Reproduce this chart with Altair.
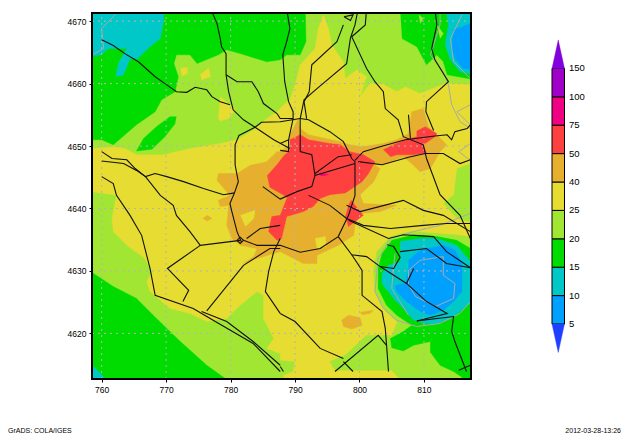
import altair as alt
import pandas as pd

# ---------- contour-level colours ----------
C_LT5 = "#2040ff"; C_5 = "#00a0ff"; C_10 = "#00c8c8"; C_15 = "#00dc00"; C_20 = "#a0e632"
C_25 = "#e6dc32"; C_40 = "#e6af2d"; C_50 = "#ff4040"; C_75 = "#f00082"; C_100 = "#a000c8"; C_150 = "#8200dc"

# ---------- map extent and ticks ----------
X_DOM = [758.5, 817.3]
Y_DOM = [4612.7, 4671.3]
X_TICKS = [760, 770, 780, 790, 800, 810]
Y_TICKS = [4620, 4630, 4640, 4650, 4660, 4670]

# ---------- filled contours (painter order) ----------
base = [(758, 4612), (758, 4672), (818, 4672), (818, 4612)]
green_nw = [(758, 4672), (791.6, 4672), (791.7, 4666.7), (790.8, 4664.6), (788.7, 4664.6), (787.7, 4663.8), (785.6, 4663.5), (781.5, 4664.8), (779.4, 4665.4), (778.1, 4664.6), (774.8, 4663.2), (773.7, 4664.6), (771.6, 4664.6), (771.2, 4663.2), (771.9, 4661.1), (771.4, 4658.7), (769.3, 4657.4), (768.3, 4655.5), (765.4, 4653.4), (761.8, 4650.2), (760, 4651), (758, 4651)]
green_patch = [(771.6, 4654.7), (770.6, 4654.7), (768.5, 4653.1), (766.5, 4651.2), (765.4, 4649.2), (767.8, 4649.5), (769.8, 4651.5), (771.4, 4653.6)]
cyan_nw = [(758, 4672), (769.6, 4672), (769.6, 4669.9), (769.1, 4667.2), (767.5, 4665.9), (765.4, 4663.8), (764.4, 4664), (763.4, 4661.4), (762.2, 4661.1), (762.6, 4663.2), (763.9, 4665.6), (761, 4665.6), (760, 4664.6), (758, 4664.3)]
green_ne = [(806.3, 4672), (818, 4672), (818, 4660.6), (813.6, 4661.4), (813, 4663.5), (812, 4664.6), (810.4, 4663), (808.9, 4665.9), (806.6, 4667.2)]
cyan_ne = [(813.3, 4672), (818, 4672), (818, 4661.4), (815.6, 4661.9), (814.1, 4663.8), (813.3, 4666.2), (813.8, 4669.4)]
blue_ne = [(818, 4669.9), (814.6, 4668.6), (814.3, 4665.6), (814.8, 4664), (816.1, 4662.4), (818, 4662.2)]
lg_a = [(809.2, 4671), (809.9, 4670.4), (809.4, 4669.6)]
lg_b = [(812, 4669.4), (813, 4668), (812.5, 4667.2)]
green_sw = [(758, 4630.1), (761.8, 4627.5), (765.4, 4625.6), (768.5, 4622.4), (772.2, 4618.7), (776.3, 4614.9), (779.4, 4612.6), (779.4, 4612), (758, 4612)]
cyan_sw = [(758, 4615.5), (758, 4612), (761.3, 4612)]
yellow = [(758, 4642.7), (758, 4649.5), (761.8, 4649.9), (763.6, 4649.6), (765.4, 4648.6), (769.6, 4648.6), (773.7, 4649.6), (778.4, 4650.4), (781, 4651), (783.6, 4652.6), (785.6, 4654.4), (787.2, 4655.5), (788.2, 4656.6), (789.2, 4657.4), (790, 4659.8), (790.8, 4663), (793.1, 4665.6), (793.6, 4668.8), (794.4, 4671), (795.2, 4668.8), (795.7, 4666.2), (797.5, 4663.5), (797.8, 4660.8), (799.6, 4662.2), (801.1, 4661.1), (800.1, 4657.9), (801.6, 4660), (803.5, 4660), (805.8, 4658.7), (807.1, 4659.5), (809.4, 4658.4), (812, 4659.5), (813.5, 4660), (818, 4659.8), (818, 4647.5), (815.1, 4646.4), (814.6, 4642.2), (813, 4640.8), (815.1, 4638.4), (818, 4637.6), (818, 4634.1), (808.4, 4628.8), (804.8, 4619.2), (805, 4614.1), (806.4, 4612.5), (788.3, 4612.5), (788.2, 4613.3), (789.7, 4613.9), (790, 4615.5), (787.7, 4615.7), (787.7, 4616.8), (785.6, 4617.6), (786.7, 4619.2), (785.1, 4622.4), (785.1, 4626.1), (784.1, 4626.7), (781.5, 4624.5), (779.4, 4622.4), (776.3, 4621.9), (773.7, 4623.2), (770.6, 4624), (767.5, 4626.7), (767, 4628.3), (767.8, 4629.9), (766.7, 4632), (763.9, 4634.1), (761.8, 4636.3), (761.6, 4638.4), (762.3, 4642.1)]
y_a = [(772.2, 4662.4), (773.3, 4662.6), (773.3, 4661.6), (772.5, 4661.2)]
y_b = [(775.3, 4661.4), (776.6, 4662.5), (776.9, 4661.1), (775.5, 4660.6)]
y_c = [(778.1, 4654.4), (778.4, 4657.9), (780.7, 4655.8), (779.7, 4654.4), (778.4, 4654)]
lg_south = [(802.9, 4619.7), (801.1, 4619.7), (797.8, 4616.5), (795.4, 4615.5), (796.2, 4614.1), (800.6, 4614.1), (805, 4614.1), (804.8, 4619.7)]
orange = [(790.5, 4654.4), (790.8, 4652.8), (792.1, 4651.8), (797, 4650.7), (798.5, 4650.2), (800.4, 4649.9), (803.7, 4650.4), (805.8, 4651), (807.6, 4652), (808.1, 4655.5), (809.9, 4656), (810.7, 4653.1), (812, 4651.8), (813.5, 4650.2), (812.5, 4649.1), (811, 4646.4), (809.4, 4645.9), (808.1, 4647.2), (806.8, 4648.3), (803.7, 4647), (802.2, 4647), (803.2, 4646.4), (802.2, 4644.3), (800.1, 4642.2), (800.6, 4640.8), (805.8, 4640.5), (803.2, 4639.5), (800.1, 4639.2), (799.3, 4637.3), (799.1, 4635.7), (796.7, 4634.1), (793.4, 4632.5), (793.4, 4631.2), (791.3, 4631.2), (787.7, 4633.1), (784.1, 4632), (782, 4631.2), (783.6, 4632.3), (784.1, 4633.6), (781.5, 4634.1), (780.2, 4635.2), (779.4, 4637.3), (779.7, 4640.5), (778.4, 4640.3), (778.1, 4641.3), (779.9, 4642.1), (777.9, 4644.5), (778.1, 4645.6), (781, 4645.6), (783, 4646.9), (785.6, 4647.5), (787.2, 4649.1), (787.7, 4649.1), (789.2, 4650.2), (789.2, 4651.8)]
or_a = [(797.2, 4622.1), (798.3, 4622.9), (800.1, 4622.5), (800.4, 4621.3), (798.8, 4620.7), (797.5, 4621.1)]
or_b = [(800.1, 4623.4), (802.2, 4623.7), (801.6, 4623.2), (800.4, 4623)]
or_c = [(775.7, 4638.4), (776.4, 4638.9), (777.1, 4638.4), (776.3, 4638)]
y_d = [(793.1, 4635.2), (794.7, 4635.5), (794.8, 4633.9), (793.4, 4633.6)]
y_e = [(781.5, 4638.9), (783.8, 4639.7), (783.6, 4638.4), (782.3, 4637.1)]
red = [(789.2, 4651), (790.8, 4651.8), (792.1, 4651), (795.4, 4650.4), (797, 4650.2), (798.5, 4649.1), (800.6, 4648.6), (802.4, 4647.5), (801.4, 4645.6), (800.4, 4644.3), (797.8, 4642.5), (795.4, 4642.2), (793.9, 4641.6), (792.8, 4640.3), (791.3, 4639.5), (788.7, 4638.7), (787.9, 4635.2), (787.2, 4634.9), (785.9, 4636.3), (786.4, 4638.7), (787.7, 4638.9), (788.8, 4641.8), (786.1, 4643.4), (785.7, 4645.3), (787.2, 4647), (788.3, 4648.5), (789.2, 4649.3)]
red_e = [(803.7, 4649.4), (805.3, 4650.2), (807.1, 4651), (808.9, 4651.5), (808.9, 4652.4), (810.2, 4653.1), (812, 4652), (811.7, 4651.5), (809.9, 4650.2), (810.4, 4648.9), (808.4, 4648.6), (805.8, 4648.6), (804.8, 4648.3)]
red_se = [(798.3, 4640.5), (798.7, 4641.3), (799.3, 4640.5), (800.6, 4638.9), (798.3, 4637.1), (797.8, 4638.7)]
magenta = [(793.8, 4645.7), (795.2, 4645.4), (794, 4645.2)]
lg_ring = [(804.8, 4635.5), (807.9, 4636.3), (812, 4636), (815.6, 4635.7), (818, 4635.2), (818, 4612), (806.4, 4612), (806.4, 4612.6), (805, 4614.1), (804.8, 4619.2), (806.8, 4621.1), (805.3, 4622.4), (803.7, 4624), (802.4, 4626.7), (802.2, 4629.9), (802.7, 4633.1)]
green_ring = [(805, 4634.9), (808.4, 4635.8), (812, 4635.5), (815.1, 4634.9), (818, 4633.1), (818, 4612), (815.9, 4612), (815.9, 4613), (814.6, 4613.9), (812.5, 4614.9), (811, 4617), (811, 4618.7), (808.4, 4618.1), (806.8, 4617.2), (805, 4617.7), (804.8, 4619.2), (806.8, 4620.3), (808.1, 4621.3), (805.8, 4622.9), (804.2, 4624.5), (802.9, 4627.2), (802.9, 4630.4), (803.5, 4632.8)]
cyan_ring = [(806.3, 4634.7), (809.4, 4635.2), (812, 4635.2), (815.1, 4634.1), (816.4, 4632.5), (818, 4630.7), (818, 4625.6), (815.6, 4623.5), (814.1, 4622.4), (812, 4621.6), (810.4, 4621.6), (808.4, 4622.1), (806.8, 4624), (805.3, 4625.6), (803.5, 4628), (803.5, 4629.6), (804.5, 4630.9), (806.3, 4631.5), (806.3, 4633.1)]
blue_ring = [(807.6, 4631.7), (809.4, 4633.3), (813, 4634.1), (814.8, 4633.3), (815.9, 4631.2), (815.9, 4626.7), (814.6, 4625.1), (813, 4623.7), (811, 4622.9), (809.4, 4623.5), (807.3, 4625.1), (805.8, 4626.7), (805.5, 4627.7), (807.1, 4628), (807.6, 4630.1)]

fills = [
    (base, C_20), (green_nw, C_15), (green_patch, C_15), (cyan_nw, C_10), (green_ne, C_15), (cyan_ne, C_10),
    (blue_ne, C_5), (lg_a, C_20), (lg_b, C_20), (green_sw, C_15), (cyan_sw, C_10), (yellow, C_25), (y_a, C_25),
    (y_b, C_25), (y_c, C_25), (lg_south, C_20), (orange, C_40), (or_a, C_40), (or_b, C_40), (or_c, C_40),
    (y_d, C_25), (y_e, C_25), (red, C_50), (red_e, C_50), (red_se, C_50), (magenta, C_75), (lg_ring, C_20),
    (green_ring, C_15), (cyan_ring, C_10), (blue_ring, C_5),
]

# ---------- grey coast / lake outlines ----------
coast = [
    [(802.4, 4626.7), (803.7, 4624), (805.8, 4622.1), (808.9, 4621.1), (812.5, 4621.6), (815.6, 4623.2), (817.2, 4625.1)],
    [(802.4, 4626.7), (802.9, 4632), (804.8, 4635.2), (808.4, 4636.3), (812.5, 4637.3), (817.2, 4639.2)],
    [(807.6, 4630.1), (809.4, 4631.7), (813, 4632.3), (813, 4629.3), (814.8, 4628), (814.6, 4625.6), (811.8, 4624.3), (808.7, 4625.9), (807.6, 4627.8), (807.6, 4630.1)],
    [(812.5, 4672), (812.5, 4669.4), (811, 4664.6), (813, 4661.9), (813.8, 4659.8), (814.3, 4656.6), (815.6, 4653.9), (817.2, 4652.8)],
    [(817.2, 4656.6), (815.1, 4655.5), (817.2, 4653.4)],
    [(817.2, 4650.4), (815.4, 4649.1), (817.2, 4647.7)],
    [(815.9, 4671), (814.1, 4667.2), (814.6, 4663.5), (817.2, 4660.8)],
    [(762.8, 4672), (761.8, 4670.7), (760, 4668.8), (760.3, 4665.6), (758.5, 4664.6)],
    [(805.5, 4632.8), (805, 4627.2), (807.6, 4622.9)],
]

# ---------- roads ----------
roads = [
    [(760, 4667), (761.8, 4666.1), (763.6, 4664.8), (765.7, 4663.5), (768.3, 4661.1), (770.1, 4659.8), (771.6, 4658.7), (773.2, 4658.6), (774.5, 4659.4), (776.3, 4659), (777.1, 4657.9), (778.4, 4657.1), (779.9, 4656.6)],
    [(776.9, 4672), (777.9, 4669.6), (778.4, 4667.2), (778.6, 4665.9), (779.3, 4664.8), (779.3, 4661.4), (779.7, 4658.7), (780.4, 4655.8), (782, 4654.2), (783.8, 4653), (786.7, 4651), (789.2, 4649.6)],
    [(779.3, 4661.4), (781, 4660.3), (783.3, 4660.3), (784.3, 4658.7), (785.1, 4656.8), (787.2, 4655.2), (787.7, 4654.4), (789.7, 4654.4)],
    [(790.8, 4654.4), (787.7, 4653.9), (784.8, 4653.8), (783.8, 4653), (781.3, 4651.7), (780.7, 4650.2), (780.7, 4647), (781.2, 4644.3), (780.6, 4642.5), (779.9, 4640.8), (780.2, 4639.5), (781, 4636.3), (781.7, 4634.6)],
    [(790.8, 4654.4), (792.1, 4654.2), (795.4, 4652.3), (797.5, 4650.7), (798.8, 4648), (799.3, 4647.5), (799.3, 4642.1), (798.3, 4638.9), (796.7, 4635.5), (793.9, 4633.6), (790.8, 4633), (787.7, 4634.1), (784.1, 4634.1), (782, 4634.9)],
    [(760, 4649.1), (761.6, 4648), (763.9, 4647.8), (765.2, 4646.4), (766.8, 4645.1), (768.3, 4645.6), (770.1, 4645.1), (772.7, 4644.3), (775.8, 4643.2), (778.9, 4642.2), (780.6, 4642.5)],
    [(760, 4647.6), (763.4, 4647.2), (765.4, 4646.1), (766.8, 4645.1), (769.1, 4642.1), (771.1, 4640.5), (771.6, 4638.9), (773.7, 4636.3), (775.3, 4634.1), (781.5, 4634.9)],
    [(760, 4645.1), (761.8, 4644), (762.3, 4642.1), (764.4, 4638.9), (766.2, 4635.7), (767.5, 4630.4), (768.3, 4626.1), (774.2, 4624), (777.3, 4622.1), (783.5, 4618.4), (787.7, 4613.9)],
    [(775.5, 4623.5), (779.4, 4621.9), (783.5, 4618.7), (787.7, 4614.9)],
    [(776.3, 4623.6), (782, 4630.9), (786.1, 4633.6), (787.7, 4633.6)],
    [(772.6, 4625.1), (773.5, 4626.9), (770.2, 4630.4), (775.3, 4634.1)],
    [(788.7, 4672), (789.2, 4668.8), (788.7, 4666.7), (788.1, 4664.6), (788.4, 4660.3), (789, 4657.1), (789.7, 4655.5), (789.7, 4654.4), (789, 4651)],
    [(797.5, 4669.4), (796.5, 4666.7), (792.6, 4663), (792.2, 4658.7), (791.4, 4657.1), (791.8, 4654.4)],
    [(799.8, 4672), (799.3, 4669.4), (798.6, 4667.3), (798, 4663.2), (793.4, 4659.2), (791.4, 4657.4), (790.8, 4654.4)],
    [(801.1, 4672), (800.9, 4669.4), (798.8, 4667.5), (801.1, 4662.4), (802.4, 4660.3), (803.7, 4658.7), (804, 4656), (806, 4654.2), (806.8, 4651.5), (809.9, 4650.2), (810.4, 4648), (812.5, 4642.2), (815.6, 4638.9), (817.2, 4635.2)],
    [(797.6, 4670.7), (799, 4671), (798.6, 4670.1), (797.6, 4670.7)],
    [(799.3, 4647.7), (800.6, 4649.1), (803.2, 4649.9), (807.1, 4651), (811.7, 4651.6), (813.6, 4651.8), (814.3, 4651), (814.8, 4652.3), (816.7, 4652.8), (817.2, 4653.4)],
    [(807.6, 4655), (807.9, 4651.2)],
    [(811.7, 4672), (812, 4669.4), (811.2, 4665.6), (811.7, 4663.8), (813.8, 4660.3), (810.4, 4657.1), (810.3, 4655.5), (811.5, 4652.5)],
    [(799.8, 4647.5), (803.5, 4647), (807.6, 4648.2), (810.2, 4648.8), (813, 4648.8), (815.6, 4647.2), (817.2, 4647.8)],
    [(799.3, 4647.2), (793.1, 4645.3), (792.6, 4643.5), (790.3, 4642.7), (787.7, 4641.5), (785, 4643.5)],
    [(790.8, 4654.4), (790.8, 4649.1), (792.6, 4648.6), (793.1, 4645.3)],
    [(793.1, 4645.6), (796.7, 4648.3), (798.8, 4648.6)],
    [(787.7, 4650.4), (789, 4651), (789, 4649.1), (787.7, 4649.3)],
    [(792.1, 4642.1), (795.4, 4640.5), (798, 4638.4), (800.6, 4637.3), (804.8, 4636.8), (809.9, 4637.3), (813.5, 4637.6), (817.2, 4637.6)],
    [(798, 4640.5), (800.1, 4639.5), (806.8, 4641.3), (809.9, 4639.7), (813, 4638.9), (817.2, 4636.3)],
    [(798.3, 4638.1), (804.5, 4635.2), (806.8, 4635.8), (811.5, 4635.5), (813.5, 4633.1), (817.2, 4630.5)],
    [(796.7, 4635.5), (798.8, 4632.6), (801.1, 4632.3), (803.2, 4630.7), (805.3, 4630.4), (806.3, 4632.2), (805.3, 4633.9), (804.3, 4634.2)],
    [(803.2, 4630.7), (807.3, 4628), (810.4, 4625.1), (813.6, 4623.2), (810.4, 4622.4), (808.9, 4622)],
    [(807.3, 4628), (808.4, 4630.4)],
    [(806.3, 4633.1), (810.4, 4633.6), (813.5, 4631.2), (817.2, 4630.5)],
    [(798.8, 4632.6), (800.4, 4630.1), (800.4, 4626.1), (803.5, 4623.5), (804, 4620.8), (804.2, 4618.1), (804.5, 4613.9)],
    [(808.9, 4622), (814.6, 4622.7), (814.3, 4620.3), (814.8, 4618.7), (816.6, 4613.9)],
    [(815.4, 4614.1), (817.2, 4614.9)],
    [(796.2, 4613.9), (802.9, 4619.7), (804.2, 4618.1)],
    [(797.5, 4615.5), (799, 4613.9)],
    [(787.7, 4623.2), (790, 4621.9), (793.9, 4617.6), (797.5, 4616)],
    [(787.7, 4614.7), (788.2, 4613.9)],
    [(787.7, 4635.2), (786.7, 4633.1), (785.9, 4629.9), (785.4, 4626.7), (787.7, 4623.2)],
    [(787.7, 4637.3), (784.6, 4636.8), (782.5, 4635.2)],
    [(781, 4634.9), (781.5, 4635.4), (782, 4634.9), (781.5, 4634.4), (781, 4634.9)],
]

# ---------- colour bar ----------
bar_lo = [0, 1, 2, 3, 4, 5, 6, 7, 8]
bar_colors = [C_5, C_10, C_15, C_20, C_25, C_40, C_50, C_75, C_100]
bar_label_pos = [0, 1, 2, 3, 4, 5, 6, 7, 8, 9]
bar_labels = ["5", "10", "15", "20", "25", "40", "50", "75", "100", "150"]
tri_low = [(0, 0), (0.5, -1), (1, 0)]
tri_high = [(0, 9), (0.5, 10), (1, 9)]

footer_left = "GrADS: COLA/IGES"
footer_right = "2012-03-28-13:26"

FONT = "Liberation Sans"
xs = alt.Scale(domain=X_DOM, nice=False, zero=False)
ys = alt.Scale(domain=Y_DOM, nice=False, zero=False)
AX_X = alt.Axis(values=X_TICKS, format="d", grid=False, domain=False, tickSize=3, tickColor="black",
                labelFont=FONT, labelFontSize=8.5, labelColor="black", labelPadding=3, title=None)
AX_Y = alt.Axis(values=Y_TICKS, format="d", grid=False, domain=False, tickSize=3, tickColor="black",
                labelFont=FONT, labelFontSize=8.5, labelColor="black", labelPadding=3, title=None)
X_ENC = alt.X("x:Q", scale=xs, axis=AX_X)
Y_ENC = alt.Y("y:Q", scale=ys, axis=AX_Y)


def pts(p):
    return pd.DataFrame({"x": [a for a, _ in p], "y": [b for _, b in p], "i": range(len(p))})


layers = []
for p, c in fills:
    layers.append(alt.Chart(pts(p)).mark_line(fill=c, stroke=c, strokeWidth=0.4, clip=True, interpolate="linear")
                  .encode(x=X_ENC, y=Y_ENC, order="i:Q"))

grid_x = alt.Chart(pd.DataFrame({"x": X_TICKS, "y0": [Y_DOM[0]] * 6, "y1": [Y_DOM[1]] * 6})).mark_rule(
    color="#b4b4b4", strokeDash=[2, 4], strokeWidth=1).encode(x=X_ENC, y=alt.Y("y0:Q", scale=ys, axis=AX_Y), y2="y1:Q")
grid_y = alt.Chart(pd.DataFrame({"y": Y_TICKS, "x0": [X_DOM[0]] * 6, "x1": [X_DOM[1]] * 6})).mark_rule(
    color="#b4b4b4", strokeDash=[2, 4], strokeWidth=1).encode(y=Y_ENC, x=alt.X("x0:Q", scale=xs, axis=AX_X), x2="x1:Q")
layers += [grid_x, grid_y]

for p in coast:
    layers.append(alt.Chart(pts(p)).mark_line(stroke="#aaaaaa", strokeWidth=1, clip=True, interpolate="linear")
                  .encode(x=X_ENC, y=Y_ENC, order="i:Q"))
for p in roads:
    layers.append(alt.Chart(pts(p)).mark_line(stroke="#111111", strokeWidth=1.1, clip=True, interpolate="linear")
                  .encode(x=X_ENC, y=Y_ENC, order="i:Q"))

frame = alt.Chart(pd.DataFrame({"x": [X_DOM[0]], "x2": [X_DOM[1]], "y": [Y_DOM[0]], "y2": [Y_DOM[1]]})).mark_rect(
    fill=None, stroke="black", strokeWidth=2).encode(x=X_ENC, x2="x2:Q", y=Y_ENC, y2="y2:Q")
layers.append(frame)
map_layer = alt.layer(*layers)

# colour bar, with its own scales placed to the right of the map
bx = alt.Scale(domain=[0, 1], range=[460, 472.5], nice=False, zero=False)
by = alt.Scale(domain=[-1, 10], range=[339.4, 27], nice=False, zero=False)
BX = alt.X("x:Q", scale=bx, axis=None)
BY = alt.Y("y:Q", scale=by, axis=None)

bar_df = pd.DataFrame({"x": [0] * 9, "x2": [1] * 9, "y": bar_lo, "y2": [v + 1 for v in bar_lo], "c": bar_colors})
rects = alt.Chart(bar_df).mark_rect(stroke="black", strokeWidth=1).encode(
    x=BX, x2="x2:Q", y=BY, y2="y2:Q", fill=alt.Fill("c:N", scale=None, legend=None))
tri1 = alt.Chart(pts(tri_low)).mark_line(fill=C_LT5, stroke=C_LT5, strokeWidth=0.4, interpolate="linear").encode(x=BX, y=BY, order="i:Q")
tri2 = alt.Chart(pts(tri_high)).mark_line(fill=C_150, stroke=C_150, strokeWidth=0.4, interpolate="linear").encode(x=BX, y=BY, order="i:Q")
lab_df = pd.DataFrame({"x": [1.35] * len(bar_labels), "y": bar_label_pos, "t": bar_labels})
labels = alt.Chart(lab_df).mark_text(align="left", baseline="middle", font=FONT, fontSize=9.5, color="black").encode(
    x=BX, y=BY, text="t:N")
bar_layer = alt.layer(rects, tri1, tri2, labels)

foot_l = alt.Chart(pd.DataFrame({"t": [footer_left]})).mark_text(
    align="left", baseline="middle", font=FONT, fontSize=7, color="black").encode(
    x=alt.value(-84), y=alt.value(418), text="t:N")
foot_r = alt.Chart(pd.DataFrame({"t": [footer_right]})).mark_text(
    align="right", baseline="middle", font=FONT, fontSize=7, color="black").encode(
    x=alt.value(529), y=alt.value(418), text="t:N")

chart = alt.layer(map_layer, bar_layer, foot_l, foot_r).resolve_scale(x="independent", y="independent").properties(
    width=379, height=366,
    autosize=alt.AutoSizeParams(type="none"),
    padding={"left": 84, "top": 5, "right": 151, "bottom": 57},
    background="white",
).configure_view(stroke=None)

chart.save("out.html", embed_options={"renderer": "svg", "actions": False})
